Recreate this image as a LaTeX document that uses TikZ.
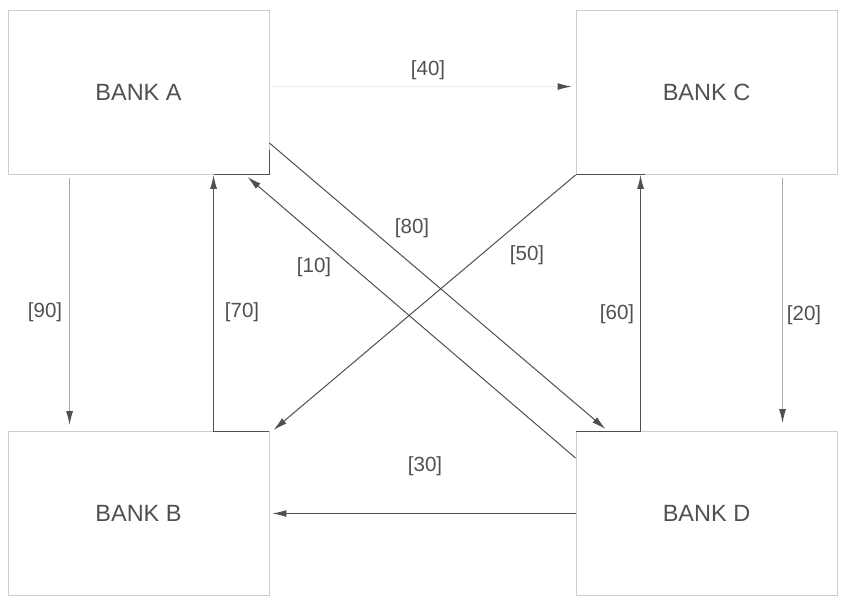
\documentclass[tikz,border=0pt]{standalone}
\usepackage{fontspec}
\setmainfont{Liberation Sans}
\usepackage{xcolor}
\usetikzlibrary{arrows.meta, calc, positioning}
\definecolor{InkGray}{RGB}{80,80,80}
\definecolor{EdgeGray}{RGB}{205,205,205}
\definecolor{FadeGray}{RGB}{170,170,170}
\definecolor{GhostGray}{RGB}{238,238,238}
\tikzset{
  >=latex,
  % banche
  bank/.style={draw=EdgeGray,line width=0.9pt,minimum width=261pt,minimum height=164pt,inner sep=0pt,text=InkGray,font=\fontsize{23.5}{27}\selectfont},
  % flussi
  flow/.style={-{Latex[length=14pt,width=7pt]},line width=1pt,draw=InkGray},
  flow faint/.style={-{Latex[length=14pt,width=7pt,color=InkGray]},line width=1pt,draw=#1},
  rim/.style={line width=1pt,draw=InkGray},
  amount/.style={text=InkGray,font=\fontsize{20.5}{24}\selectfont,inner sep=1pt}
}
\begin{document}
\begin{tikzpicture}[x=1pt,y=-1pt]
    \useasboundingbox (0,0) rectangle (841,596);
    \node[bank] (A) at (138.5,92.5) {BANK A};
    \node[bank] (C) at (706.5,92.5) {BANK C};
    \node[bank] (B) at (138.5,513.5) {BANK B};
    \node[bank] (D) at (706.5,513.5) {BANK D};
    % tratti scuri sui bordi
    \draw[rim] ($(A.south west)+(206,0)$) -- (A.south east) -- ($(A.north east)+(0,140)$);
    \draw[rim] (C.south west) -- ++(69,0);
    % flussi verticali
    \draw[flow faint=FadeGray,shorten <=3pt,shorten >=6pt] ($(A.south west)+(62,0)$) -- ($(B.north west)+(62,0)$);
    \draw[flow faint=FadeGray,shorten <=3pt,shorten >=8pt] ($(C.south west)+(207,0)$) -- ($(D.north west)+(207,0)$);
    \draw[flow] (B.north east) -| ($(A.south west)+(206,0)$);
    \draw[flow] (D.north west) -| ($(C.south west)+(65,0)$);
    % flussi orizzontali
    \draw[flow faint=GhostGray] ($(A.north east)+(0,76.5)$) -- ($(C.north west)+(-4,76.5)$);
    \draw[flow] (D.west) -- ($(B.east)+(3,0)$);
    % diagonali
    \draw[flow] ($(A.north east)+(0,133)$) -- ($(D.north west)+(30,-2)$);
    \draw[flow] ($(D.north west)+(0,27)$) -- ($(A.south east)+(-22,2)$);
    \draw[flow] (C.south west) -- ($(B.north east)+(4,-1)$);
    % importi
    \node[amount] (l40) at (428,70) {[40]};
    \node[amount] (l80) at (412,228) {[80]};
    \node[amount] (l10) at (314,267) {[10]};
    \node[amount] (l50) at (527,255) {[50]};
    \node[amount] (l90) at (45,312) {[90]};
    \node[amount] (l70) at (242,312) {[70]};
    \node[amount] (l60) at (617,314) {[60]};
    \node[amount] (l20) at (804,315) {[20]};
    \node[amount] (l30) at (425,466) {[30]};
\end{tikzpicture}
\end{document}
